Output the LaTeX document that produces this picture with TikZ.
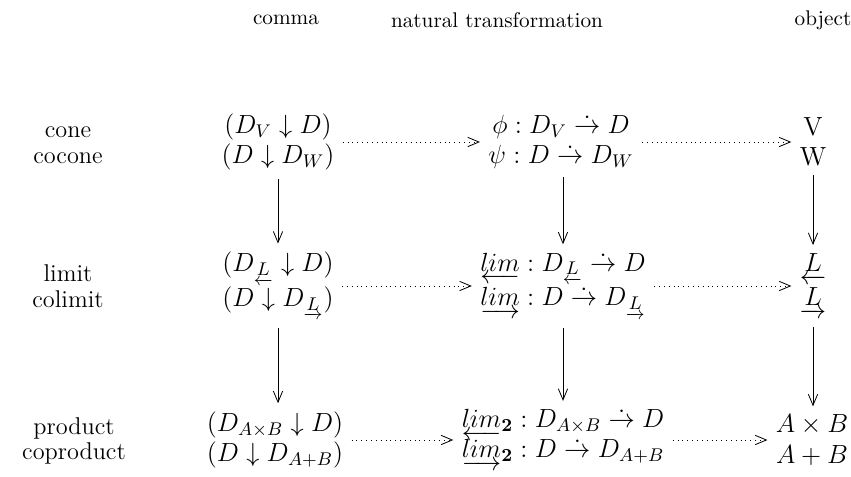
\RequirePackage{fix-cm}
\documentclass[tikz,border=0pt]{standalone}
\usepackage{amsmath,amssymb}
\usetikzlibrary{arrows.meta}
\newcommand{\dto}{\mathrel{\dot{\rightarrow}}}
\AtBeginDocument{\lineskiplimit=-20pt\relax}
\begin{document}
\begin{tikzpicture}[x=0.495pt,y=-0.495pt,
  head/.style={inner sep=1pt, font=\fontsize{10.5}{12.6}\selectfont},
  lab/.style={align=center, inner sep=1pt, font=\fontsize{12}{12.6}\selectfont},
  cell/.style={align=center, inner sep=1pt, font=\fontsize{13}{15}\selectfont},
  vt/.style={-{Straight Barb[length=5.5pt,width=4.6pt]}, line width=0.4pt, shorten <=3pt, shorten >=3pt},
  dt/.style={-{Straight Barb[length=5.5pt,width=4.6pt]}, dotted, line width=0.4pt, shorten <=3pt, shorten >=3pt}]
\useasboundingbox (0,0) rectangle (851,477);
% headers
\node[head] (hc) at (286,20) {comma};
\node[head] (hn) at (497,20) {natural transformation};
\node[head] (ho) at (823,20) {object};
% row labels
\node[lab] (l1) at (68,145) {cone\\cocone};
\node[lab] (l2) at (68,286) {limit\\colimit};
\node[lab] (l3) at (74,441) {product\\coproduct};
% comma column
\node[cell] (c1) at (278,142) {$(D_V\downarrow D)$\\$(D\downarrow D_W)$};
\node[cell] (c2) at (278,286) {$(D_{\underleftarrow{L}}\downarrow D)$\\[2pt]$(D\downarrow D_{\underrightarrow{L}})$};
\node[cell] (c3) at (275,440) {$(D_{A\times B}\downarrow D)$\\$(D\downarrow D_{A+B})$};
% natural transformation column
\node[cell] (n1) at (561,142) {$\phi : D_V \dto D$\\$\psi : D \dto D_W$};
\node[cell] (n2) at (563,286) {$\underleftarrow{lim} : D_{\underleftarrow{L}} \dto D$\\[2pt]$\underrightarrow{lim} : D \dto D_{\underrightarrow{L}}$};
\node[cell] (n3) at (563,440) {$\underleftarrow{lim}_{\mathbf{2}} : D_{A\times B} \dto D$\\$\underrightarrow{lim}_{\mathbf{2}} : D \dto D_{A+B}$};
% object column
\node[cell] (o1) at (813,142) {V\\W};
\node[cell] (o2) at (813,286) {$\underleftarrow{L}$\\[2pt]$\underrightarrow{L}$};
\node[cell] (o3) at (812,440) {$A\times B$\\$A+B$};
% vertical arrows
\foreach \a/\b in {c1/c2,c2/c3}
  \draw[vt] (\a.south -| 278,0) -- (\b.north -| 278,0);
\foreach \a/\b in {n1/n2,n2/n3}
  \draw[vt] (\a.south -| 563,0) -- (\b.north -| 563,0);
\foreach \a/\b in {o1/o2,o2/o3}
  \draw[vt] (\a.south -| 813,0) -- (\b.north -| 813,0);
% dotted arrows
\foreach \a/\b in {c1/n1,n1/o1,c2/n2,n2/o2,c3/n3,n3/o3}
  \draw[dt] (\a) -- (\b);
\end{tikzpicture}
\end{document}
